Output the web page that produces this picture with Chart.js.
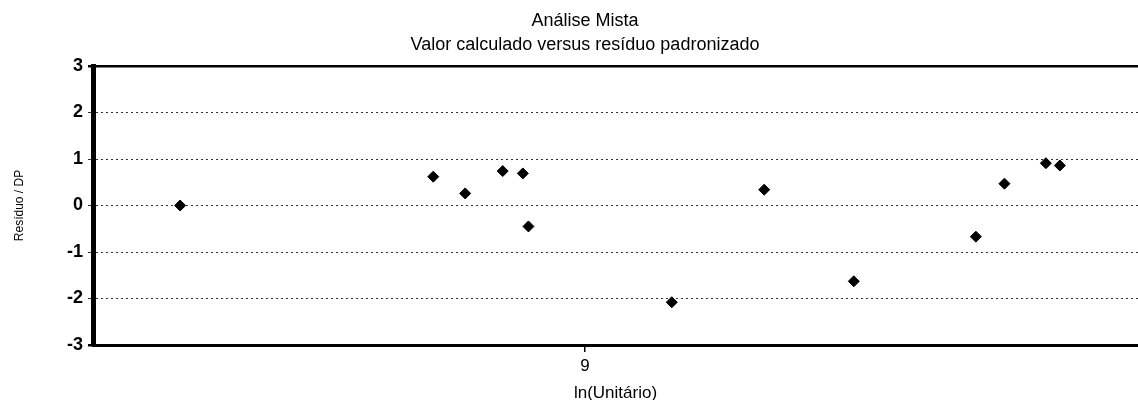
<!DOCTYPE html>
<html>
<head>
<meta charset="utf-8">
<title>Análise Mista</title>
<script src="https://cdn.jsdelivr.net/npm/chart.js@4/dist/chart.umd.min.js"></script>
<style>
  html, body { margin: 0; padding: 0; background: #fff; overflow: hidden; }
  #wrap { width: 1138px; height: 400px; }
</style>
</head>
<body>
<div id="wrap"><canvas id="residuos"></canvas></div>
<script>
// Data
const lnUnitario = [8.277, 8.729, 8.786, 8.853, 8.889, 8.899, 9.155, 9.320, 9.480, 9.698, 9.749, 9.823, 9.848];
const residuoDP  = [0.00, 0.62, 0.26, 0.74, 0.69, -0.45, -2.08, 0.34, -1.63, -0.67, 0.47, 0.91, 0.86];
const xTicks = [9];
const yTicks = [-3, -2, -1, 0, 1, 2, 3];
const titleLines = ['Análise Mista', 'Valor calculado versus resíduo padronizado'];

const FONT = '"Liberation Sans", Arial, sans-serif';

// Title is drawn centred over the original (uncropped) plot centre
const titlePlugin = {
    id: 'scanTitle',
    afterDraw(chart) {
        const ctx = chart.ctx;
        ctx.save();
        ctx.fillStyle = '#000';
        ctx.font = '18px ' + FONT;
        ctx.textAlign = 'center';
        ctx.textBaseline = 'middle';
        ctx.fillText(titleLines[0], 585, 21);
        ctx.fillText(titleLines[1], 585, 45);
        ctx.restore();
    }
};

const points = lnUnitario.map((x, i) => ({ x: x, y: residuoDP[i] }));

new Chart(document.getElementById('residuos'), {
    type: 'scatter',
    data: {
        datasets: [{
            label: 'Resíduo / DP',
            data: points,
            pointStyle: 'rectRot',
            pointRadius: 5.5,
            pointHoverRadius: 5.5,
            backgroundColor: '#000',
            borderColor: '#000',
            borderWidth: 1
        }]
    },
    options: {
        responsive: true,
        maintainAspectRatio: false,
        animation: false,
        layout: { autoPadding: false, padding: { top: 66, right: 0, left: 0, bottom: 0 } },
        plugins: {
            legend: { display: false },
            tooltip: { enabled: false },
            title: { display: false }
        },
        scales: {
            x: {
                type: 'linear',
                min: 8.1214,
                max: 9.9875,
                afterFit(scale) {
                    scale.height = 55;
                    scale.paddingLeft = 0;
                    scale.paddingRight = 0;
                },
                afterBuildTicks(scale) { scale.ticks = xTicks.map(v => ({ value: v })); },
                grid: { drawOnChartArea: false, drawTicks: true, tickLength: 7, color: '#000', lineWidth: 1.5 },
                border: { display: true, color: '#000', width: 3 },
                ticks: {
                    color: '#000',
                    padding: 4,
                    maxRotation: 0,
                    font: { family: FONT, size: 17 },
                    callback: v => String(v)
                },
                title: {
                    display: true,
                    text: 'ln(Unitário)',
                    color: '#000',
                    padding: 0,
                    font: { family: FONT, size: 17, lineHeight: 0.75 }
                }
            },
            y: {
                type: 'linear',
                min: -3,
                max: 3,
                afterFit(scale) { scale.width = 93; },
                afterBuildTicks(scale) { scale.ticks = yTicks.map(v => ({ value: v })); },
                grid: {
                    drawOnChartArea: true,
                    drawTicks: true,
                    tickLength: 5,
                    color: ctx => (ctx.tick && Math.abs(ctx.tick.value) === 3) ? '#000' : '#333',
                    lineWidth: ctx => (ctx.tick && Math.abs(ctx.tick.value) === 3) ? 2.5 : 1
                },
                border: {
                    display: true,
                    color: '#000',
                    width: 5,
                    dash: ctx => (ctx.tick && Math.abs(ctx.tick.value) === 3) ? [] : [2, 3]
                },
                ticks: {
                    color: '#000',
                    padding: 5,
                    font: { family: FONT, size: 18, weight: 'bold' },
                    callback: v => String(v)
                },
                title: {
                    display: true,
                    text: 'Resíduo / DP',
                    color: '#000',
                    padding: { top: 12, bottom: 0 },
                    font: { family: FONT, size: 12 }
                }
            }
        }
    },
    plugins: [titlePlugin]
});
</script>
</body>
</html>
